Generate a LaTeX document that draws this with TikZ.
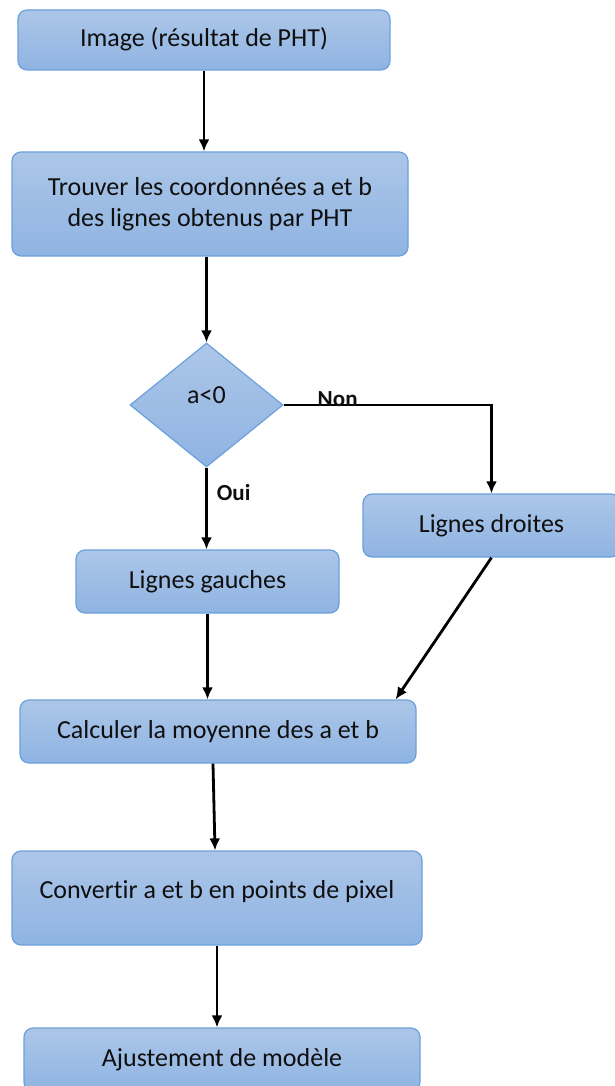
\documentclass[tikz,border=0pt]{standalone}
\usepackage{fontspec}
\setmainfont[Ligatures=NoCommon]{Carlito}
\usetikzlibrary{shapes.geometric,arrows.meta}
\definecolor{boxtop}{RGB}{172,198,232}
\definecolor{boxbot}{RGB}{143,180,226}
\definecolor{boxline}{RGB}{108,160,220}
\definecolor{txt}{RGB}{15,15,15}
\tikzset{
  stepbox/.style={rectangle, rounded corners=9pt, draw=boxline, line width=1.2pt,
    top color=boxtop, bottom color=boxbot, text=txt, inner sep=0pt,
    font=\fontsize{26}{31}\selectfont, text height=18pt, text depth=5pt, align=center},
  decision/.style={diamond, draw=boxline, line width=1.2pt, top color=boxtop,
    bottom color=boxbot, inner sep=0pt, minimum width=153pt, minimum height=124pt},
  arr/.style={line width=2.8pt, draw=black, -{Latex[length=12pt,width=11pt]}},
  lbl/.style={font=\bfseries\fontsize{23}{28}\selectfont, text=txt, inner sep=0pt}
}
\begin{document}
\begin{tikzpicture}[x=1pt, y=-1pt]
\useasboundingbox (0,0) rectangle (615,1086);
% process boxes
\node[stepbox, minimum width=372pt, minimum height=60pt] (img) at (204,40) {Image (résultat de PHT)};
\node[stepbox, minimum width=396pt, minimum height=104pt, text height=, text depth=] (trv) at (210,204)
  {Trouver les coordonnées a et b\\des lignes obtenus par PHT};
\node[decision] (dia) at (206.5,405) {};
\node[font=\fontsize{26}{31}\selectfont, text=txt, inner sep=0pt] (cond) at ([yshift=10pt]dia.center) {a<0};
\node[stepbox, minimum width=257pt, minimum height=63pt] (rd) at (491.5,525.5) {Lignes droites};
\node[stepbox, minimum width=263pt, minimum height=63pt] (lg) at (207.5,581.5) {Lignes gauches};
\node[stepbox, minimum width=396pt, minimum height=63pt] (calc) at (218,731.5) {Calculer la moyenne des a et b};
\node[stepbox, minimum width=410pt, minimum height=94pt, text depth=18pt] (conv) at (217,898) {Convertir a et b en points de pixel};
\node[stepbox, minimum width=396pt, minimum height=63pt] (aj) at (222,1059.5) {Ajustement de modèle};
% connectors
\draw[arr] (img.south) -- (img.south |- trv.north);
\draw[arr] (dia.north |- trv.south) -- (dia.north);
\draw[arr] (dia.south) -- (dia.south |- lg.north)
  node[lbl, anchor=west, pos=0.31, xshift=9pt] (oui) {Oui};
\draw[arr] (dia.east) -| (rd.north)
  node[lbl, anchor=base, pos=0.13, yshift=-1pt] (non) {Non};
\draw[arr] (lg.south) -- (lg.south |- calc.north);
\draw[arr] (rd.south) -- ([xshift=-21pt]calc.north east);
\draw[arr] ([xshift=-5pt]calc.south) -- ([xshift=-3pt]calc.south |- conv.north);
\draw[arr] (conv.south) -- (conv.south |- aj.north);
\end{tikzpicture}
\end{document}
